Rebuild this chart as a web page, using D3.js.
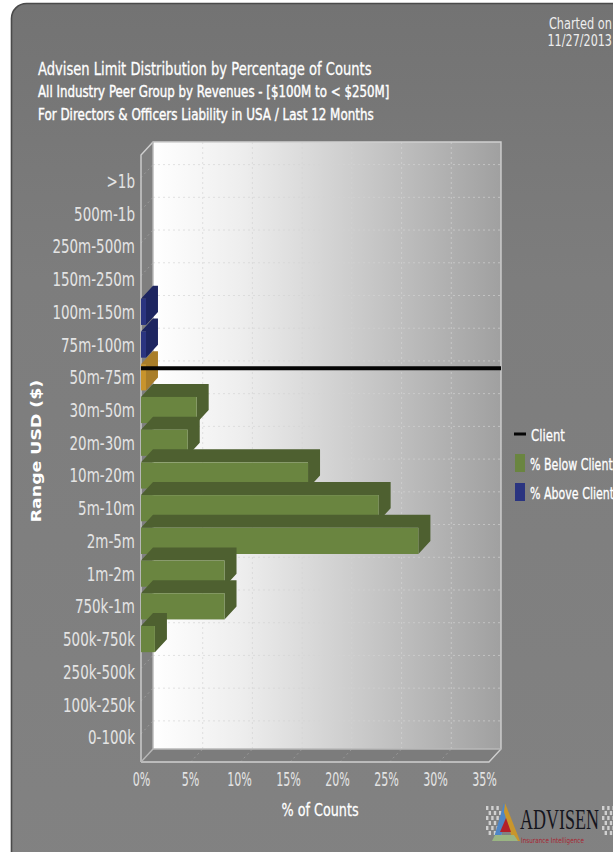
<!DOCTYPE html>
<html>
<head>
<meta charset="utf-8">
<script src="https://cdn.jsdelivr.net/npm/d3@7/dist/d3.min.js"></script>
<style>
html,body{margin:0;padding:0;background:#fff;overflow:hidden}
svg{display:block}
text{font-family:"DejaVu Sans",sans-serif;fill:#fff}
</style>
</head>
<body>
<svg id="chart" width="613" height="852"></svg>
<script>
// Limit bands, top of the axis first
const categories = [">1b","500m-1b","250m-500m","150m-250m","100m-150m","75m-100m","50m-75m","30m-50m","20m-30m","10m-20m","5m-10m","2m-5m","1m-2m","750k-1m","500k-750k","250k-500k","100k-250k","0-100k"];
// Share of counts per band, in percent
const counts = [0,0,0,0,0.5,0.5,0.5,5.6,4.7,16.8,23.9,27.9,8.4,8.4,1.4,0,0,0];
const seriesAbove = ["100m-150m","75m-100m"];
const clientBand = "50m-75m";
const xTicks = [0,5,10,15,20,25,30,35];
const titleLines = ["Advisen Limit Distribution by Percentage of Counts","All Industry Peer Group by Revenues - [$100M to < $250M]","For Directors & Officers Liability in USA / Last 12 Months"];
const chartedOn = ["Charted on","11/27/2013"];
const legendNames = ["Client","% Below Client","% Above Client"];

const palette = {
  below:{front:"#6a8540",side:"#4e6030"},
  above:{front:"#2a3480",side:"#1d2560"},
  client:{front:"#c8942c",side:"#a97e2a"}
};

const svg = d3.select("#chart");
const defs = svg.append("defs");

const panelGrad = defs.append("linearGradient").attr("id","panel").attr("x1",0).attr("y1",0).attr("x2",0).attr("y2",1);
panelGrad.append("stop").attr("offset",0).attr("stop-color","#737373");
panelGrad.append("stop").attr("offset",0.3).attr("stop-color","#7d7d7d");
panelGrad.append("stop").attr("offset",1).attr("stop-color","#828282");

const wallGrad = defs.append("linearGradient").attr("id","wall").attr("x1",0).attr("y1",0).attr("x2",1).attr("y2",0);
wallGrad.append("stop").attr("offset",0).attr("stop-color","#ffffff");
wallGrad.append("stop").attr("offset",0.25).attr("stop-color","#eeeeee");
wallGrad.append("stop").attr("offset",1).attr("stop-color","#a0a0a0");

// Rounded panel running off the right and bottom edges
svg.append("rect").attr("x",11.5).attr("y",3.5).attr("width",680).attr("height",920).attr("rx",15)
  .attr("fill","url(#panel)").attr("stroke","#4a4a4a").attr("stroke-width",1.6);

// Scales: the front plane of the 3D box, plus a depth offset for the back wall
const depthX = 12, depthY = 13;
const x = d3.scaleLinear().domain([0,35]).range([141,489]);
const xLabel = d3.scaleLinear().domain([0,35]).range([141.5,484.5]);
const y = d3.scaleBand().domain(categories).range([164.6,753.6]).paddingInner(0.2).paddingOuter(0.1);
const step = y.step();
const bandTop = c => 164.6 + categories.indexOf(c) * step;
const frontTop = 155, frontBottom = 762;
const backTop = frontTop - depthY, backBottom = frontBottom - depthY;
const pts = a => a.map(p => p.join(",")).join(" ");

// Walls and floor
const box = svg.append("g");
box.append("rect").attr("x",x(0)+depthX).attr("y",backTop).attr("width",x(35)-x(0)).attr("height",backBottom-backTop).attr("fill","url(#wall)");
box.append("polygon").attr("points",pts([[x(0),frontTop],[x(0)+depthX,backTop],[x(0)+depthX,backBottom],[x(0),frontBottom]])).attr("fill","#7f7f7f");
box.append("polygon").attr("points",pts([[x(0),frontBottom],[x(0)+depthX,backBottom],[x(35)+depthX,backBottom],[x(35),frontBottom]])).attr("fill","#7c7c7c");

// Dotted gridlines on the walls and floor
const grid = svg.append("g").attr("fill","none").attr("stroke","#d4d4d4").attr("stroke-width",1).attr("stroke-dasharray","2 3").attr("opacity",0.65);
grid.selectAll("line.h").data(categories).join("line").attr("class","h")
  .attr("x1",x(0)+depthX).attr("x2",x(35)+depthX)
  .attr("y1",d=>bandTop(d)).attr("y2",d=>bandTop(d));
grid.selectAll("line.d").data(categories).join("line").attr("class","d")
  .attr("x1",x(0)).attr("x2",x(0)+depthX)
  .attr("y1",d=>bandTop(d)+depthY).attr("y2",d=>bandTop(d)).attr("stroke","#aaaaaa");
grid.selectAll("line.v").data(xTicks.slice(1,-1)).join("line").attr("class","v")
  .attr("x1",d=>x(d)+depthX).attr("x2",d=>x(d)+depthX)
  .attr("y1",backTop).attr("y2",backBottom);
grid.selectAll("line.f").data(xTicks.slice(1,-1)).join("line").attr("class","f")
  .attr("x1",d=>x(d)).attr("x2",d=>x(d)+depthX)
  .attr("y1",frontBottom).attr("y2",backBottom).attr("stroke","#aaaaaa");

// Light outline of the box
const edge = svg.append("g").attr("fill","none").attr("stroke","#cfcfcf").attr("stroke-width",1.4);
edge.append("polyline").attr("points",pts([[x(0),frontBottom],[x(0),frontTop],[x(0)+depthX,backTop],[x(35)+depthX,backTop],[x(35)+depthX,backBottom],[x(35),frontBottom],[x(0),frontBottom]]));
edge.append("line").attr("x1",x(0)+depthX).attr("x2",x(0)+depthX).attr("y1",backTop).attr("y2",backBottom).attr("stroke","#b8b8b8");
edge.append("line").attr("x1",x(0)+depthX).attr("x2",x(35)+depthX).attr("y1",backBottom).attr("y2",backBottom).attr("stroke","#b8b8b8");
edge.append("line").attr("x1",x(0)).attr("x2",x(0)+depthX).attr("y1",frontBottom).attr("y2",backBottom).attr("stroke","#b8b8b8");

// Bars, drawn top to bottom so each lower bar sits over the one above
const rows = categories.map((c,i)=>({c,v:counts[i]})).filter(d=>d.v>0);
const colourOf = d => d.c===clientBand ? palette.client : seriesAbove.includes(d.c) ? palette.above : palette.below;
const bars = svg.append("g").selectAll("g").data(rows).join("g");
bars.append("polygon").attr("fill",d=>colourOf(d).side)
  .attr("points",d=>{const t=y(d.c),b=t+y.bandwidth(),l=x(0),r=x(d.v);
    return pts([[l,t],[l+depthX,t-depthY],[r+depthX,t-depthY],[r+depthX,b-depthY],[r,b],[r,t]]);});
bars.append("rect").attr("fill",d=>colourOf(d).front)
  .attr("x",x(0)).attr("y",d=>y(d.c)).attr("width",d=>x(d.v)-x(0)).attr("height",y.bandwidth());

// Client marker line across the plot
svg.append("line").attr("x1",x(0)).attr("x2",x(35)+depthX)
  .attr("y1",y(clientBand)+y.bandwidth()/2-9).attr("y2",y(clientBand)+y.bandwidth()/2-9)
  .attr("stroke","#050505").attr("stroke-width",4);

// Horizontally squeezed text helper
function label(px,py,str,size,sx,opts={}){
  return svg.append("text").attr("transform",`translate(${px},${py}) scale(${sx},1)`)
    .attr("font-size",size).attr("text-anchor",opts.anchor||"start")
    .attr("font-weight",opts.weight||"normal").style("fill",opts.fill||"#fff").text(str);
}

// Titles
label(38,75,titleLines[0],18,0.728).style("stroke","#fff").style("stroke-width",0.3);
label(38,97,titleLines[1],15,0.79).style("stroke","#fff").style("stroke-width",0.4);
label(38,120,titleLines[2],15,0.796).style("stroke","#fff").style("stroke-width",0.4);
label(612,29,chartedOn[0],16,0.71,{anchor:"end",fill:"#eeeeee"});
label(612,46,chartedOn[1],16,0.7,{anchor:"end",fill:"#eeeeee"});

// Category labels
categories.forEach(c=>label(135,y(c)+y.bandwidth()/2+7,c,19,0.71,{anchor:"end",fill:"#e4e4e4"}));

// Value axis labels
xTicks.forEach(t=>label(xLabel(t),786,t+"%",19,0.585,{anchor:"middle",fill:"#e4e4e4"}));
label(320,816,"% of Counts",18,0.71,{anchor:"middle"}).style("stroke","#fff").style("stroke-width",0.3);

// Rotated axis title
svg.append("text").attr("transform","translate(41,451) rotate(-90) scale(1.24,1)").attr("text-anchor","middle")
  .attr("font-size",14).attr("font-weight","bold").style("fill","#fff").text("Range USD ($)");

// Legend
svg.append("line").attr("x1",514).attr("x2",526).attr("y1",434).attr("y2",434).attr("stroke","#050505").attr("stroke-width",3);
svg.append("rect").attr("x",515).attr("y",454).attr("width",10).attr("height",18).attr("fill",palette.below.front);
svg.append("rect").attr("x",515).attr("y",483).attr("width",10).attr("height",18).attr("fill",palette.above.front);
[441,470,499].forEach((py,i)=>label(i?530:531,py,legendNames[i],16.5,i?0.67:0.71).style("stroke","#fff").style("stroke-width",0.3));

// Company mark in the corner
const logo = svg.append("g");
const dots = d3.range(0,6);
[[486,806],[602,806]].forEach(([ox,oy])=>{
  dots.forEach(r=>dots.forEach(k=>{
    if((r+k)%2===0) logo.append("rect").attr("x",ox+k*2.6).attr("y",oy+r*5).attr("width",2.4).attr("height",4).attr("fill","#d0d0d0");
  }));
});
logo.append("polygon").attr("points",pts([[493,841],[504,803],[507,812],[500,841]])).attr("fill","#4f86c6");
logo.append("polygon").attr("points",pts([[505,803],[520,841],[513,841],[504,812]])).attr("fill","#c9962c");
logo.append("polygon").attr("points",pts([[500,832],[506,818],[511,832]])).attr("fill","#b3202a");
logo.append("polygon").attr("points",pts([[492,841],[495,835],[514,835],[518,841]])).attr("fill","#9ab583");
svg.append("text").attr("transform","translate(520,829) scale(0.6,1)").attr("font-size",30).style("font-family","'Liberation Serif',serif").style("fill","#15151d").text("ADVISEN");
svg.append("text").attr("transform","translate(521,843) scale(0.76,1)").attr("font-size",7.5).style("fill","#a82632").text("Insurance Intelligence");
</script>
</body>
</html>
